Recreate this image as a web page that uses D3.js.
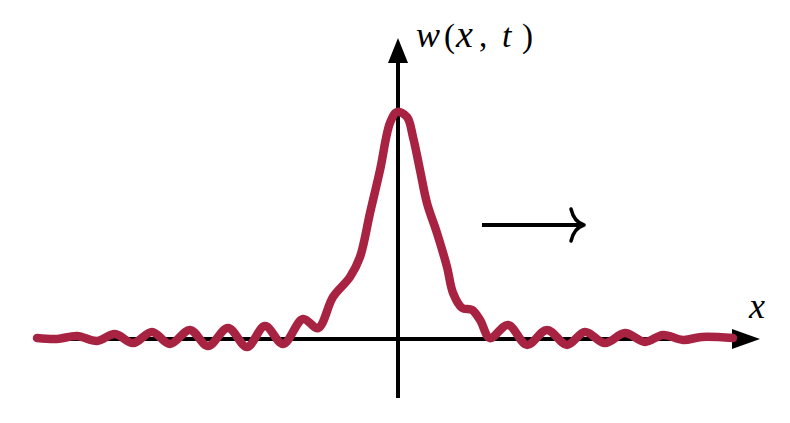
<!DOCTYPE html>
<html><head><meta charset="utf-8">
<script src="https://cdn.jsdelivr.net/npm/d3@7"></script>
<style>html,body{margin:0;padding:0;background:#fff;}</style>
</head><body>
<svg id="c" width="790" height="423"></svg>
<script>
// pixel readings of the curve, converted to data units (x: -10..10, w: peak = 1)
const xPx = [37,57,77,97,115,133,152,170,190,208,228,247,265,283,303,318,333,350,360,370,380,390,397,
             407,413,420,427,437,447,453,462,472,480,490,508,527,547,567,585,605,625,645,663,683,702,733];
const wPx = [338,339,336,341,334,343,332,344,330,346,328,347,326,344,319,328,297,277,257,213,170,123,112,
             117,137,170,203,233,267,293,308,310,320,338,325,345,330,345,332,343,333,342,335,340,337,338];
const xs = xPx.map(p => +((p - 398) / 36.2).toFixed(3));
const ws = wPx.map(p => +((339 - p) / 227).toFixed(3));
const xDomain = [-10, 10];
const wDomain = [-0.26, 1.326];
const wLabelGlyphs = ["w", "(", "x", ",", "t", ")"];
const xLabel = "x";

const svg = d3.select("#c");
const xS = d3.scaleLinear().domain(xDomain).range([36, 760]);
const yS = d3.scaleLinear().domain(wDomain).range([398, 38]);
const x0 = xS(0), y0 = yS(0);

// axes
const ax = svg.append("g").attr("stroke", "#000").attr("stroke-width", 4).attr("fill", "none");
ax.append("line").attr("x1", xS(-10)).attr("x2", xS(10) - 24).attr("y1", y0).attr("y2", y0);
ax.append("line").attr("x1", x0).attr("x2", x0).attr("y1", yS(wDomain[0])).attr("y2", yS(wDomain[1]) + 22);
// arrowheads
svg.append("path").attr("fill", "#000")
  .attr("d", `M${xS(10)},${y0} L${xS(10)-28},${y0-10} L${xS(10)-28},${y0+10} Z`);
svg.append("path").attr("fill", "#000")
  .attr("d", `M${x0},${yS(wDomain[1])} L${x0-10},${yS(wDomain[1])+25} L${x0+10},${yS(wDomain[1])+25} Z`);

// curve
const line = d3.line().x((d,i) => xS(xs[i])).y((d,i) => yS(ws[i])).curve(d3.curveCatmullRom.alpha(0.5));
svg.append("path").datum(xs).attr("d", line)
  .attr("fill", "none").attr("stroke", "#a82342").attr("stroke-width", 8.5)
  .attr("stroke-linecap", "round").attr("stroke-linejoin", "round");

// propagation arrow
const ay = 225;
svg.append("line").attr("x1", 482).attr("x2", 582).attr("y1", ay).attr("y2", ay)
  .attr("stroke", "#000").attr("stroke-width", 4);
svg.append("path").attr("fill", "none").attr("stroke", "#000").attr("stroke-width", 3.5).attr("stroke-linecap","round")
  .attr("d", `M571,${ay-16} Q574,${ay-3} 584,${ay} M571,${ay+16} Q574,${ay+3} 584,${ay}`);

// labels
const glyphX = [416, 444, 456, 479, 502, 522];
const glyphStyle = ["italic", "normal", "italic", "normal", "italic", "normal"];
const glyphSize = [36, 33, 38, 33, 34, 33];
const t = svg.append("text").attr("y", 47)
  .attr("font-family", "'Liberation Serif','DejaVu Serif',serif");
wLabelGlyphs.forEach((g, i) => {
  t.append("tspan").attr("x", glyphX[i]).attr("font-style", glyphStyle[i])
   .attr("font-size", glyphSize[i]).text(g);
});
svg.append("text").attr("x", 749).attr("y", 318)
  .attr("font-family", "'Liberation Serif','DejaVu Serif',serif").attr("font-style", "italic")
  .attr("font-size", 36).text(xLabel);
</script>
</body></html>
